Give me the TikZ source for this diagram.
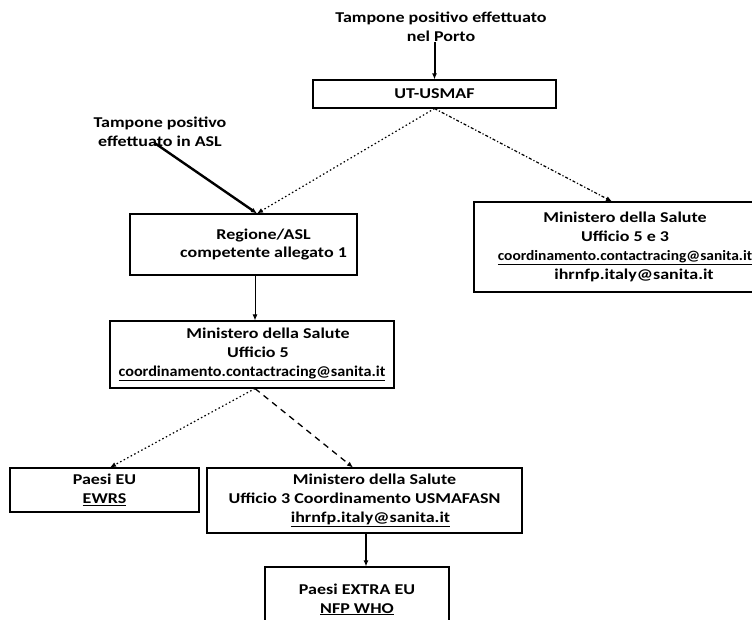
\documentclass[tikz,border=0pt]{standalone}
\usepackage{fontspec}
\newfontfamily\carl{Carlito}[FakeStretch=1.2]
\newfontfamily\carlmail{Carlito}[FakeStretch=1.08]
\usetikzlibrary{arrows.meta}
\begin{document}
\begin{tikzpicture}[x=1pt,y=-1pt,
  txt/.style={inner sep=0pt, align=center, font=\carl\bfseries\fontsize{15}{19.5}\selectfont},
  box/.style={draw, line width=1.1pt, inner sep=0pt, align=center, font=\carl\bfseries\fontsize{15}{18.8}\selectfont},
  tip/.style={-{Latex[length=6pt,width=5pt]}},
  strong/.style={tip, line width=2pt},
  thin/.style={tip, line width=1pt},
  dots/.style={tip, line width=1.2pt, dash pattern=on 1.5pt off 2.5pt},
  dashdots/.style={tip, line width=1.2pt, dash pattern=on 3pt off 2pt on 1.2pt off 2pt},
  dashes/.style={tip, line width=1.3pt, dash pattern=on 6pt off 5pt}]
\useasboundingbox (0,0) rectangle (752,620);
\clip (0,0) rectangle (752,620);
\fill[white] (0,0) rectangle (752,620);

\newcommand{\mail}[1]{{\carlmail\bfseries #1}}

\node[txt] (title) at (441,27) {Tampone positivo effettuato\\nel Porto};
\node[box, minimum width=243pt, minimum height=28pt] (ut) at (434.5,94) {UT-USMAF};
\node[txt] (asl) at (160,132) {Tampone positivo\\effettuato in ASL};
\node[box, minimum width=227pt, minimum height=61pt] (reg) at (243.5,244.5)
  {\hspace*{40pt}Regione/ASL\\\hspace*{40pt}competente allegato 1};
\node[box, minimum width=302pt, minimum height=90pt] (right) at (625,247)
  {Ministero della Salute\\Ufficio 5 e 3\\\underline{{\carlmail\bfseries\fontsize{14.3}{18.8}\selectfont coordinamento.contactracing@sanita.it}}\hspace*{22pt}\\\hspace*{18pt}ihrnfp.italy@sanita.it};
\node[box, minimum width=284pt, minimum height=67pt] (u5) at (252,354.5)
  {\hspace*{32pt}Ministero della Salute\\\hspace*{12pt}Ufficio 5\\\underline{\mail{coordinamento.contactracing@sanita.it}}};
\node[box, minimum width=189pt, minimum height=44pt] (eu) at (104.5,490)
  {Paesi EU\\\underline{EWRS}};
\node[box, minimum width=315pt, minimum height=65pt] (u3) at (364.5,500.5)
  {\hspace*{20pt}Ministero della Salute\\Ufficio 3 Coordinamento USMAFASN\\\hspace*{12pt}\underline{ihrnfp.italy@sanita.it}};
\node[box, minimum width=184pt, minimum height=65pt] (extra) at (357,599.5)
  {Paesi EXTRA EU\\\underline{NFP WHO}};

\draw[strong] (title.south -| ut.north) -- (ut.north);
\draw[strong, line width=2.4pt] ([xshift=-5pt,yshift=4pt]asl.south) -- ([xshift=13.5pt]reg.north);
\draw[dots] (ut.south) -- ([xshift=13.5pt]reg.north);
\draw[dashdots] (ut.south) -- ([xshift=-13pt]right.north);
\draw[thin] ([xshift=3pt]u5.north |- reg.south) -- ([xshift=3pt]u5.north);
\draw[dots] ([xshift=3pt]u5.south) -- ([xshift=5.5pt]eu.north);
\draw[dashes] ([xshift=3pt]u5.south) -- ([xshift=-11.5pt]u3.north);
\draw[thin, line width=1.4pt] ([xshift=1.5pt]u3.south) -- ([xshift=1.5pt]u3.south |- extra.north);
\end{tikzpicture}
\end{document}
